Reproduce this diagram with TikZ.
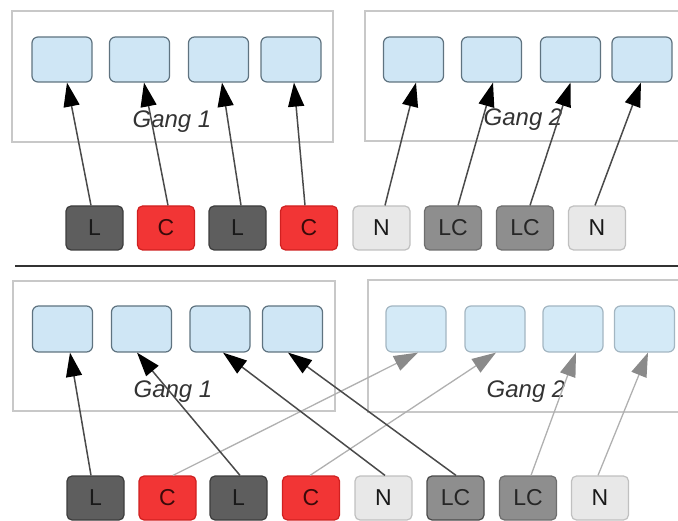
\documentclass[tikz,border=0pt]{standalone}
\usepackage{fontspec}
\setmainfont{Liberation Sans}
\usetikzlibrary{arrows.meta}

\definecolor{gangline}{HTML}{C8C8C8}
\definecolor{cellfill}{HTML}{CFE6F5}
\definecolor{celledge}{HTML}{5F7380}
\definecolor{cellfillpale}{HTML}{D4EAF7}
\definecolor{celledgepale}{HTML}{A3B6C2}
\definecolor{lfill}{HTML}{5E5E5E}
\definecolor{ledge}{HTML}{3D3D3D}
\definecolor{cfill}{HTML}{F23535}
\definecolor{cedge}{HTML}{D02020}
\definecolor{ctext}{HTML}{3A0A0A}
\definecolor{nfill}{HTML}{E8E8E8}
\definecolor{nedge}{HTML}{C0C0C0}
\definecolor{lcfill}{HTML}{8E8E8E}
\definecolor{lcedge}{HTML}{6E6E6E}
\definecolor{darkline}{HTML}{4A4A4A}
\definecolor{paleline}{HTML}{B0B0B0}
\definecolor{palehead}{HTML}{8A8A8A}

\tikzset{
  gangbox/.style={draw=gangline, line width=1.5pt, rectangle, inner sep=0pt},
  ganglabel/.style={font=\fontsize{24}{28}\selectfont\itshape, text=black!80, inner sep=0pt},
  cell/.style={draw=celledge, fill=cellfill, line width=1.2pt, rounded corners=6pt,
    minimum width=60pt, minimum height=45pt, inner sep=0pt},
  palecell/.style={cell, draw=celledgepale, fill=cellfillpale},
  src/.style={rounded corners=5pt, line width=1.2pt, minimum width=57pt, minimum height=44pt,
    inner sep=0pt, font=\fontsize{23}{27}\selectfont},
  lsrc/.style={src, draw=ledge, fill=lfill, text=black!90},
  csrc/.style={src, draw=cedge, fill=cfill, text=ctext},
  nsrc/.style={src, draw=nedge, fill=nfill, text=black!90},
  lcsrc/.style={src, draw=lcedge, fill=lcfill, text=black!85},
  conn/.style={draw=darkline, line width=1.5pt,
    -{Triangle[length=24pt, width=16pt, fill=black, color=black]}},
  paleconn/.style={draw=paleline, line width=1.3pt,
    -{Triangle[length=24pt, width=16pt, fill=palehead, color=palehead]}},
}

\begin{document}
\begin{tikzpicture}[x=1pt, y=-1pt]
\useasboundingbox (0,0) rectangle (678,521);
\clip (0,0) rectangle (678,521);

% ---------- upper arrangement ----------
\node[gangbox, minimum width=321pt, minimum height=131pt] (ga1) at (172.5,76.5) {};
\node[gangbox, minimum width=325pt, minimum height=130pt] (ga2) at (527.5,76) {};
\node[ganglabel] (la1) at (172,122) {Gang 1};
\node[ganglabel] (la2) at (523,120) {Gang 2};

\node[cell] (t1) at (62,59.5) {};
\node[cell] (t2) at (139.5,59.5) {};
\node[cell] (t3) at (218.5,59.5) {};
\node[cell] (t4) at (291,59.5) {};
\node[cell] (t5) at (413.5,59.5) {};
\node[cell] (t6) at (491.5,59.5) {};
\node[cell] (t7) at (570.5,59.5) {};
\node[cell] (t8) at (642,59.5) {};

\node[lsrc]  (s1) at (94.5,228) {L};
\node[csrc]  (s2) at (166,228) {C};
\node[lsrc]  (s3) at (237.5,228) {L};
\node[csrc]  (s4) at (309,228) {C};
\node[nsrc]  (s5) at (381.5,228) {N};
\node[lcsrc] (s6) at (453,228) {LC};
\node[lcsrc] (s7) at (525,228) {LC};
\node[nsrc]  (s8) at (597,228) {N};

\draw[conn] ([xshift=-3.5pt]s1.north) -- ([xshift=5pt]t1.south);
\draw[conn] ([xshift=2pt]s2.north) -- ([xshift=4.5pt]t2.south);
\draw[conn] ([xshift=3.5pt]s3.north) -- ([xshift=3.5pt]t3.south);
\draw[conn] ([xshift=-4pt]s4.north) -- ([xshift=3pt]t4.south);
\draw[conn] ([xshift=3.5pt]s5.north) -- ([xshift=2.5pt]t5.south);
\draw[conn] ([xshift=5pt]s6.north) -- ([xshift=1.5pt]t6.south);
\draw[conn] ([xshift=5pt]s7.north) -- (t7.south);
\draw[conn] ([xshift=-2pt]s8.north) -- ([xshift=-1pt]t8.south);

% ---------- divider ----------
\coordinate (dl) at (15,266);
\coordinate (dr) at (680,266);
\draw[line width=2pt, black!80] (dl) -- (dr);

% ---------- lower arrangement ----------
\node[gangbox, minimum width=322pt, minimum height=130pt] (gb1) at (174,346) {};
\node[gangbox, minimum width=322pt, minimum height=132pt] (gb2) at (529,346) {};
\node[ganglabel] (lb1) at (173,392) {Gang 1};
\node[ganglabel] (lb2) at (526,392) {Gang 2};

\node[cell, minimum height=46pt] (u1) at (62.5,329) {};
\node[cell, minimum height=46pt] (u2) at (141.5,329) {};
\node[cell, minimum height=46pt] (u3) at (220,329) {};
\node[cell, minimum height=46pt] (u4) at (292.5,329) {};
\node[palecell, minimum height=46pt] (u5) at (416,329) {};
\node[palecell, minimum height=46pt] (u6) at (495,329) {};
\node[palecell, minimum height=46pt] (u7) at (573,329) {};
\node[palecell, minimum height=46pt] (u8) at (644.5,329) {};

\node[lsrc]  (b1) at (95.5,498) {L};
\node[csrc]  (b2) at (167.5,498) {C};
\node[lsrc]  (b3) at (238.5,498) {L};
\node[csrc]  (b4) at (311,498) {C};
\node[nsrc]  (b5) at (383.5,498) {N};
\node[lcsrc, draw=darkline] (b6) at (455.5,498) {LC};
\node[lcsrc] (b7) at (528,498) {LC};
\node[nsrc]  (b8) at (600,498) {N};

\draw[paleconn] ([xshift=5.5pt]b2.north) -- ([xshift=2pt]u5.south);
\draw[paleconn] ([xshift=-1pt]b4.north) -- ([xshift=1pt]u6.south);
\draw[paleconn] ([xshift=3pt]b7.north) -- ([xshift=3pt]u7.south);
\draw[paleconn] ([xshift=-2pt]b8.north) -- ([xshift=3.5pt]u8.south);

\draw[conn] ([xshift=-4.5pt]b1.north) -- ([xshift=7.5pt]u1.south);
\draw[conn] ([xshift=1.5pt]b3.north) -- ([xshift=-4.5pt]u2.south);
\draw[conn] ([xshift=1.5pt]b5.north) -- ([xshift=3pt]u3.south);
\draw[conn] ([xshift=0.5pt]b6.north) -- ([xshift=-4.5pt]u4.south);
\end{tikzpicture}
\end{document}
